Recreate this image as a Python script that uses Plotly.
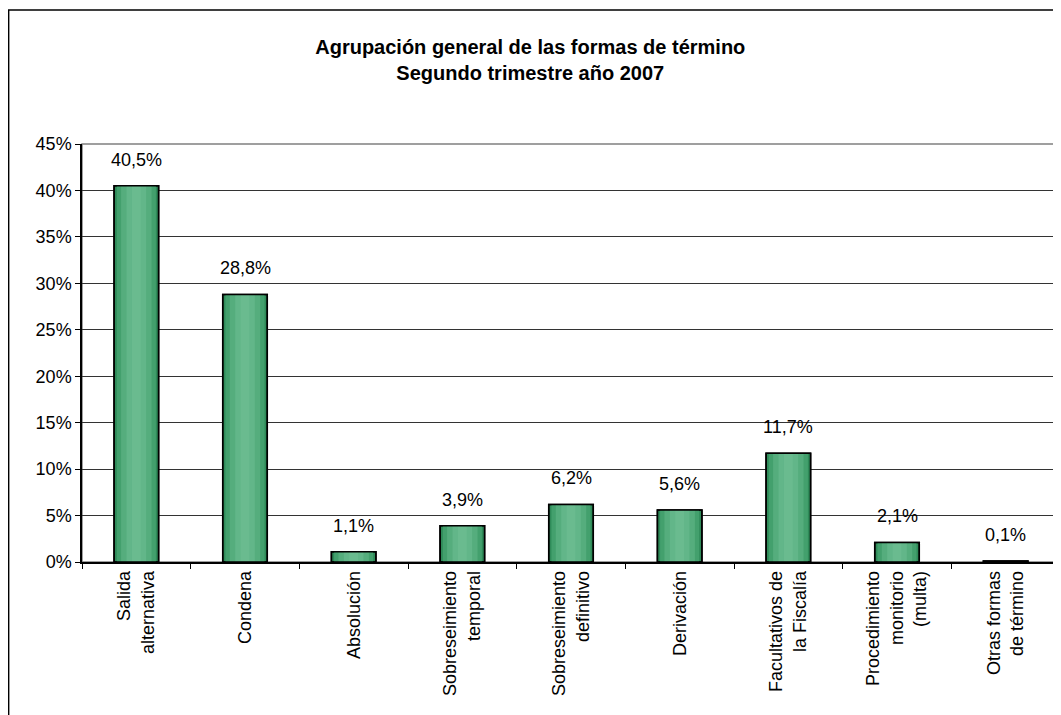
import plotly.graph_objects as go

categories = [
    "Salida<br>alternativa",
    "Condena",
    "Absolución",
    "Sobreseimiento<br>temporal",
    "Sobreseimiento<br>definitivo",
    "Derivación",
    "Facultativos de<br>la Fiscalía",
    "Procedimiento<br>monitorio<br>(multa)",
    "Otras formas<br>de término",
]
values = [40.5, 28.8, 1.1, 3.9, 6.2, 5.6, 11.7, 2.1, 0.1]
y_ticks = [0, 5, 10, 15, 20, 25, 30, 35, 40, 45]
y_tick_labels = [f"{t}%" for t in y_ticks]

font = "Liberation Sans, Arial, sans-serif"

fig = go.Figure()

# fake gradient: overlaid bars getting narrower and lighter
layers = [
    (0.41, "#2f8b59", dict(color="black", width=1.5)),
    (0.36, "#43a06d", dict(width=0)),
    (0.28, "#55ad7d", dict(width=0)),
    (0.18, "#62b689", dict(width=0)),
    (0.08, "#6abb8f", dict(width=0)),
]
for w, col, line in layers:
    fig.add_trace(go.Bar(
        x=categories, y=values, width=w,
        marker=dict(color=col, line=line),
        hoverinfo="skip", showlegend=False,
    ))
# outline on top again
fig.add_trace(go.Bar(
    x=categories, y=values, width=0.41,
    marker=dict(color="rgba(0,0,0,0)", line=dict(color="black", width=1.5)),
    showlegend=False,
))

for c, v in zip(categories, values):
    fig.add_annotation(
        x=c, y=v, text=f"{v:.1f}%".replace(".", ","),
        showarrow=False, yanchor="bottom", yshift=14,
        font=dict(family=font, size=18, color="black"),
    )

fig.update_layout(
    barmode="overlay",
    width=1053, height=707,
    margin=dict(l=74, r=1, t=136, b=153),
    paper_bgcolor="white", plot_bgcolor="white",
    font=dict(family=font, size=18, color="black"),
    title=dict(
        text="<b>Agrupación general de las formas de término<br>Segundo trimestre año 2007</b>",
        x=0.496, xref="container", xanchor="center", y=0.935, yanchor="top",
        font=dict(family=font, size=20, color="black"),
    ),
    shapes=[
        dict(type="rect", xref="paper", yref="paper",
             x0=-0.0750, x1=1.2, y0=-0.6, y1=1.3206,
             line=dict(color="black", width=1.5), layer="below"),
        dict(type="rect", xref="paper", yref="paper",
             x0=0, x1=1, y0=0, y1=1,
             line=dict(color="#808080", width=1.5), layer="below"),
    ],
)

fig.update_yaxes(
    range=[0, 45], tickvals=y_ticks, ticktext=y_tick_labels,
    showgrid=True, gridcolor="#333333", gridwidth=1,
    showline=True, linecolor="black", linewidth=1.5,
    ticks="outside", ticklen=5, tickcolor="black",
    zeroline=False, tickfont=dict(size=18),
)
fig.update_xaxes(
    tickangle=-90, tickson="boundaries",
    showline=True, linecolor="black", linewidth=1.5,
    ticks="outside", ticklen=5, tickcolor="black",
    tickfont=dict(size=18),
)

fig.write_html("out.html")
